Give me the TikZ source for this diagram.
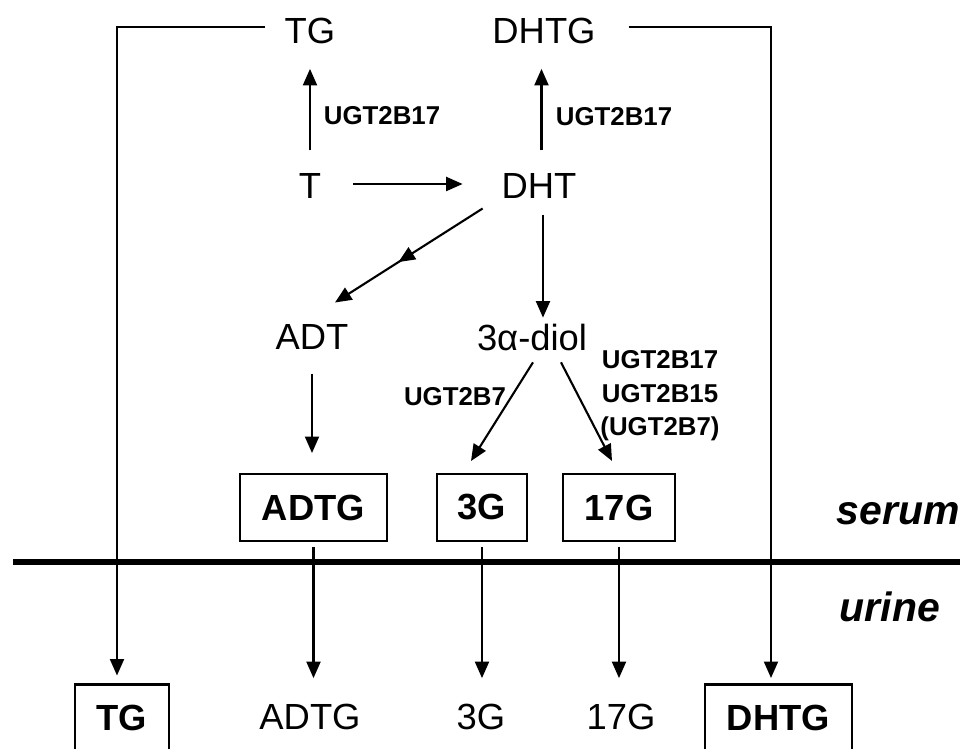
\documentclass[tikz,border=0pt]{standalone}
\usepackage{fontspec}
\setmainfont{Liberation Sans}
\usetikzlibrary{arrows.meta}
\usetikzlibrary{decorations.markings}

\begin{document}
\begin{tikzpicture}[
  x=0.02cm, y=-0.02cm,
  every node/.style={inner sep=0pt, outer sep=0pt, font=\fontsize{20.7}{24}\selectfont},
  box/.style={draw, line width=1.2pt, font=\fontsize{20.7}{24}\selectfont\bfseries, minimum height=1.34cm},
  enz/.style={font=\fontsize{14.7}{19.1}\selectfont\bfseries, align=center},
  side/.style={font=\fontsize{23.3}{28}\selectfont\bfseries\itshape, anchor=base},
  arr/.style={line width=1.2pt, -{Triangle[length=0.33cm, width=0.28cm]}},
  midarr/.style={postaction={decorate}, decoration={markings,
      mark=at position #1 with {\arrow{Triangle[length=0.33cm, width=0.28cm]}}}}
]
  \useasboundingbox (0,0) rectangle (968,749);

  \node (TG)   at (310, 31)  {TG};
  \node (DHTG) at (544, 31)  {DHTG};
  \node (T)    at (310, 186) {T};
  \node (DHT)  at (539, 186) {DHT};
  \node (ADT)  at (312, 337) {ADT};
  \node (diol) at (532, 338) {3α-diol};

  \node[box, minimum width=2.94cm] (ADTGs) at (313.5, 507.5) {ADTG};
  \node[box, minimum width=1.8cm]  (G3s)   at (482, 507.5)   {3G};
  \node[box, minimum width=2.24cm] (G17s)  at (619, 507.5)   {17G};

  \node[box, minimum width=1.88cm] (TGu)   at (122, 718)   {TG};
  \node (ADTGu) at (310, 717) {ADTG};
  \node (G3u)   at (481, 717) {3G};
  \node (G17u)  at (621, 717) {17G};
  \node[box, minimum width=2.94cm] (DHTGu) at (778.5, 718) {DHTG};

  \node[enz] (ugtT)   at (382, 116) {UGT2B17};
  \node[enz] (ugtDHT) at (614, 117) {UGT2B17};
  \node[enz] (ugtG3)  at (455, 397) {UGT2B7};
  \node[enz] (ugtG17) at (660, 396) {UGT2B17\\UGT2B15\\(UGT2B7)};

  \node[side] (serum) at (898, 525) {serum};
  \node[side] (urine) at (890, 622) {urine};

  \draw[line width=3.4pt] (13, 562) -- (960, 562);

  \draw[arr, shorten <=0.46cm, shorten >=0.5cm] (T.north) -- (T.north |- TG.south);
  \draw[arr, shorten <=0.46cm, shorten >=0.5cm] ([xshift=0.05cm]DHT.north) -- ([xshift=0.05cm]DHT.north |- DHTG.south);
  \draw[arr, shorten <=0.64cm, shorten >=0.78cm] ([yshift=0.04cm]T.east) -- ([yshift=0.04cm]DHT.west);
  \draw[arr, midarr=0.57] ([shift={(-19,10)}]DHT.south west) -- ([shift={(23,-22)}]ADT.north);
  \draw[arr, shorten <=0.32cm, shorten >=0.14cm] ([xshift=0.08cm]DHT.south) -- ([xshift=0.08cm]DHT.south |- diol.north);
  \draw[arr, shorten <=0.48cm, shorten >=0.42cm] (ADT.south) -- (ADT.south |- ADTGs.north);
  \draw[arr] ([shift={(1,11)}]diol.south) -- ([shift={(-11,-13)}]G3s.north);
  \draw[arr] ([shift={(29,11)}]diol.south) -- ([shift={(-7,-13)}]G17s.north);

  \draw[arr, shorten <=0.12cm, shorten >=0.52cm] (ADTGs.south) -- (ADTGs.south |- ADTGu.north);
  \draw[arr, shorten <=0.12cm, shorten >=0.52cm] (G3s.south) -- (G3s.south |- G3u.north);
  \draw[arr, shorten <=0.12cm, shorten >=0.52cm] (G17s.south) -- (G17s.south |- G17u.north);

  \draw[arr, shorten <=0.4cm, shorten >=0.18cm] ([yshift=0.08cm]TG.west) -| ([xshift=-0.1cm]TGu.north);
  \draw[arr, shorten <=0.66cm, shorten >=0.13cm] ([yshift=0.08cm]DHTG.east) -| ([xshift=-0.15cm]DHTGu.north);
\end{tikzpicture}
\end{document}
